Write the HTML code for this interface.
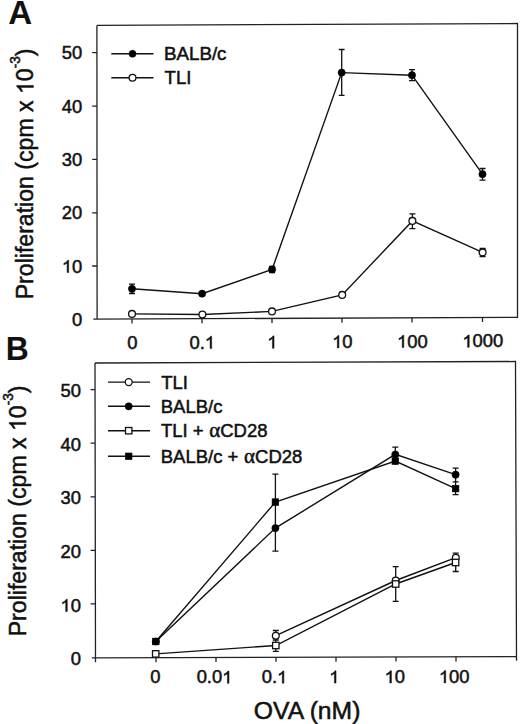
<!DOCTYPE html>
<html><head><meta charset="utf-8"><title>Proliferation</title>
<style>
html,body{margin:0;padding:0;background:#fff;width:520px;height:724px;overflow:hidden}
svg{display:block}
text{font-family:"Liberation Sans",sans-serif;fill:#111;stroke:#111;stroke-width:0.5}
.ax{stroke:#222;stroke-width:1.3;fill:none}
.dl{stroke:#111;stroke-width:1.4;fill:none}
.eb{stroke:#111;stroke-width:1.3;fill:none}
.fc{fill:#000;stroke:#000;stroke-width:0.6}
.oc{fill:#fff;stroke:#111;stroke-width:1.3}
.tk{font-size:17.9px}
.tl{font-size:23.1px}
.lg{font-size:17.6px}
.pl{font-size:32.5px;font-weight:bold;stroke-width:0}
.one{fill:#111;stroke:#111;stroke-width:0.5;vector-effect:non-scaling-stroke}
</style></head>
<body>
<svg width="520" height="724" viewBox="0 0 520 724">
<!-- ===================== PANEL A ===================== -->
<text class="pl" transform="translate(8.3,24) scale(1.02,1)">A</text>
<!-- axis title -->
<text class="tl" transform="translate(33.4,299.3) rotate(-90) scale(1,1.05)">Proliferation (cpm x &#8199;0<tspan font-size="13.5" dy="-12.4">-3</tspan><tspan dy="12.4">)</tspan></text>
<!-- box -->
<path class="ax" d="M96.8,25.4 L517.5,23.5 L517.5,317.3 L93.3,319.2 M96.9,25.4 L97.1,319.2"/>
<!-- y ticks -->
<path class="ax" d="M92.2,52.6H97 M92.2,106.2H97 M92.2,159.4H97 M92.2,212.8H97 M92.2,266H97"/>
<!-- x ticks -->
<path class="ax" d="M132,319 v4.6 M202,318.7 v4.6 M272,318.4 v4.6 M342,318.1 v4.6 M412,317.8 v4.6 M482.5,317.5 v4.6"/>
<g class="tk" text-anchor="end">
<text transform="translate(82.3,59.3) scale(1.027,1)">50</text>
<text transform="translate(82.3,112.8) scale(1.027,1)">40</text>
<text transform="translate(82.3,166) scale(1.027,1)">30</text>
<text transform="translate(82.3,219.4) scale(1.027,1)">20</text>
<text transform="translate(82.3,272.6) scale(1.027,1)">&#8199;0</text>
<text transform="translate(82.3,325.7) scale(1.027,1)">0</text>
</g>
<g class="tk" text-anchor="middle">
<text transform="translate(132.3,348.8) scale(1.027,1)">0</text>
<text transform="translate(202.3,348.5) scale(1.027,1)">0.&#8199;</text>
<text transform="translate(272.3,348.2) scale(1.027,1)">&#8199;</text>
<text transform="translate(342.3,347.9) scale(1.027,1)">&#8199;0</text>
<text transform="translate(412.3,347.6) scale(1.027,1)">&#8199;00</text>
<text transform="translate(482.8,347.3) scale(1.027,1)">&#8199;000</text>
</g>
<!-- legend A -->
<path class="dl" d="M111.3,53.8H153.5 M111.3,77.8H153.5"/>
<circle class="fc" cx="132.5" cy="53.8" r="3.5"/>
<circle class="oc" cx="132.5" cy="77.8" r="3.4"/>
<text class="lg" transform="translate(164,60.1) scale(1.065,1)">BALB/c</text>
<text class="lg" transform="translate(164.6,84.1) scale(1.05,1)">TLI</text>
<!-- data A: error bars -->
<path class="eb" d="M132,284.1V293.5 M129,284.1h6 M129,293.5h6
 M272.1,266.3V272.5 M269.1,266.3h6 M269.1,272.5h6
 M341.7,49.5V95.4 M338.8,49.5h5.8 M338.8,95.4h5.8
 M412,69.7V80.6 M409,69.7h6 M409,80.6h6
 M482.5,168.5V180.2 M479.5,168.5h6 M479.5,180.2h6
 M412.4,213.8V228.6 M409.4,213.8h6 M409.4,228.6h6
 M482.6,248.5V256.5 M479.6,248.5h6 M479.6,256.5h6"/>
<!-- data A lines -->
<polyline class="dl" points="132,288.8 202.1,293.7 272.1,269.4 341.7,72.6 412,75.2 482.5,174.2"/>
<polyline class="dl" points="132,313.9 202.4,314.5 272,311.4 342.2,294.9 412.4,220.9 482.6,252.4"/>
<!-- markers A -->
<g>
<circle class="fc" cx="132" cy="288.8" r="3.6"/>
<circle class="fc" cx="202.1" cy="293.7" r="3.6"/>
<circle class="fc" cx="272.1" cy="269.4" r="3.6"/>
<circle class="fc" cx="341.7" cy="72.6" r="3.6"/>
<circle class="fc" cx="412" cy="75.2" r="3.6"/>
<circle class="fc" cx="482.5" cy="174.2" r="3.6"/>
<circle class="oc" cx="132" cy="313.9" r="3.4"/>
<circle class="oc" cx="202.4" cy="314.5" r="3.4"/>
<circle class="oc" cx="272" cy="311.4" r="3.4"/>
<circle class="oc" cx="342.2" cy="294.9" r="3.4"/>
<circle class="oc" cx="412.4" cy="220.9" r="3.4"/>
<circle class="oc" cx="482.6" cy="252.4" r="3.4"/>
</g>

<!-- ===================== PANEL B ===================== -->
<text class="pl" transform="translate(5.8,360.3) scale(0.98,1)">B</text>
<text class="tl" transform="translate(25.9,636.3) rotate(-90) scale(1,1.05)">Proliferation (cpm x &#8199;0<tspan font-size="13.5" dy="-12.4">-3</tspan><tspan dy="12.4">)</tspan></text>
<path class="ax" d="M95,363 L515.5,361.5 L516.5,656.6 L91.9,657.8 M95,363 L95.5,662.2 M516.5,656.6 v4.2"/>
<path class="ax" d="M90.6,389.6H95 M90.6,443.2H95 M90.6,496.8H95 M90.6,550.4H95 M90.6,603.9H95"/>
<path class="ax" d="M156,657.6 v4.6 M216,657.4 v4.6 M276,657.2 v4.6 M336,657.1 v4.6 M396,656.9 v4.6 M456,656.8 v4.6"/>
<g class="tk" text-anchor="end">
<text transform="translate(80.9,397.2) scale(1.027,1)">50</text>
<text transform="translate(80.9,450.8) scale(1.027,1)">40</text>
<text transform="translate(80.9,504.4) scale(1.027,1)">30</text>
<text transform="translate(80.9,558.1) scale(1.027,1)">20</text>
<text transform="translate(80.9,611.6) scale(1.027,1)">&#8199;0</text>
<text transform="translate(80.9,665.2) scale(1.027,1)">0</text>
</g>
<g class="tk" text-anchor="middle">
<text transform="translate(155.3,683.4) scale(1.027,1)">0</text>
<text transform="translate(214.5,683.3) scale(1.027,1)">0.0&#8199;</text>
<text transform="translate(274.5,683.2) scale(1.027,1)">0.&#8199;</text>
<text transform="translate(334.3,683.1) scale(1.027,1)">&#8199;</text>
<text transform="translate(394.8,683) scale(1.027,1)">&#8199;0</text>
<text transform="translate(454.2,682.9) scale(1.027,1)">&#8199;00</text>
</g>
<text class="tl" transform="translate(253.8,718.8) scale(1.07,1)">OVA (nM)</text>
<!-- legend B -->
<path class="dl" d="M108,382.1H150 M108,406.3H150 M108,430.7H150 M108,456.3H150"/>
<circle class="oc" cx="128.7" cy="382.1" r="3.5"/>
<circle class="fc" cx="128.7" cy="406.3" r="3.6"/>
<rect class="oc" x="125.5" y="427.5" width="6.4" height="6.4"/>
<rect class="fc" x="125.4" y="453" width="6.6" height="6.6"/>
<text class="lg" transform="translate(161.2,388.6) scale(1.05,1)">TLI</text>
<text class="lg" transform="translate(160.8,412.7) scale(1.05,1)">BALB/c</text>
<text class="lg" transform="translate(160.9,437.2) scale(1.05,1)">TLI + <tspan font-family="Liberation Serif" font-size="20" dx="0.6">&#945;</tspan>CD28</text>
<text class="lg" transform="translate(160.8,462.6) scale(1.05,1)">BALB/c + <tspan font-family="Liberation Serif" font-size="20" dx="0.6">&#945;</tspan>CD28</text>
<!-- error bars B -->
<path class="eb" d="M275.4,474.2V551.1 M272.4,474.2h6 M272.4,551.1h6
 M395.3,447.1V465 M392.3,447.1h6
 M455.6,468.2V494.7 M452.6,468.2h6 M452.6,481.9h6 M452.6,494.7h6
 M275.8,630.5V651.3 M272.8,630.5h6 M272.8,640h6 M272.8,651.3h6
 M395.7,566.6V601.4 M392.7,566.6h6 M392.7,601.4h6
 M455.7,553.1V571.5 M452.7,553.1h6 M452.7,571.5h6"/>
<!-- lines B -->
<polyline class="dl" points="155.8,641.5 275.4,528.1 395.3,454.3 455.6,474.7"/>
<polyline class="dl" points="155.8,641.5 275.4,502.1 395.3,461 455.6,488.6"/>
<polyline class="dl" points="275.8,635.7 395.7,580.5 455.8,557.7"/>
<polyline class="dl" points="155.7,653.9 275.8,645.5 395.7,584 455.6,562.5"/>
<!-- markers B -->
<circle class="fc" cx="155.8" cy="641.5" r="3.6"/>
<rect class="fc" x="152.5" y="638.2" width="6.6" height="6.6"/>
<circle class="fc" cx="275.4" cy="528.1" r="3.6"/>
<rect class="fc" x="272.1" y="498.8" width="6.6" height="6.6"/>
<circle class="fc" cx="395.3" cy="454.5" r="3.6"/>
<rect class="fc" x="392" y="457.8" width="6.6" height="6.6"/>
<circle class="fc" cx="455.6" cy="474.7" r="3.6"/>
<rect class="fc" x="452.3" y="485.3" width="6.6" height="6.6"/>

<rect class="oc" x="152.5" y="650.7" width="6.4" height="6.4"/>
<circle class="oc" cx="275.8" cy="635.7" r="3.4"/>
<rect class="oc" x="272.6" y="642.3" width="6.4" height="6.4"/>
<circle class="oc" cx="395.7" cy="580.5" r="3.4"/>
<rect class="oc" x="392.5" y="580.8" width="6.4" height="6.4"/>
<circle class="oc" cx="455.8" cy="557.7" r="3.4"/>
<rect class="oc" x="452.4" y="559.3" width="6.4" height="6.4"/>
<path class="one" transform="translate(33.4,299.3) rotate(-90) scale(1,1.05) translate(205.27,0.00) scale(0.01128,-0.01128)" d="M763 0H583V1097.9Q518 1038.6 412 979.2Q306 919.9 222 890.2V1056.8Q373 1124.7 486 1221.4Q599 1318.1 646 1409H763Z"/>
<path class="one" transform="translate(82.3,272.6) scale(1.027,1) translate(-19.90,0.00) scale(0.00874,-0.00874)" d="M763 0H583V1097.9Q518 1038.6 412 979.2Q306 919.9 222 890.2V1056.8Q373 1124.7 486 1221.4Q599 1318.1 646 1409H763Z"/>
<path class="one" transform="translate(202.3,348.5) scale(1.027,1) translate(2.47,0.00) scale(0.00874,-0.00874)" d="M763 0H583V1097.9Q518 1038.6 412 979.2Q306 919.9 222 890.2V1056.8Q373 1124.7 486 1221.4Q599 1318.1 646 1409H763Z"/>
<path class="one" transform="translate(272.3,348.2) scale(1.027,1) translate(-4.98,0.00) scale(0.00874,-0.00874)" d="M763 0H583V1097.9Q518 1038.6 412 979.2Q306 919.9 222 890.2V1056.8Q373 1124.7 486 1221.4Q599 1318.1 646 1409H763Z"/>
<path class="one" transform="translate(342.3,347.9) scale(1.027,1) translate(-9.95,0.00) scale(0.00874,-0.00874)" d="M763 0H583V1097.9Q518 1038.6 412 979.2Q306 919.9 222 890.2V1056.8Q373 1124.7 486 1221.4Q599 1318.1 646 1409H763Z"/>
<path class="one" transform="translate(412.3,347.6) scale(1.027,1) translate(-14.92,0.00) scale(0.00874,-0.00874)" d="M763 0H583V1097.9Q518 1038.6 412 979.2Q306 919.9 222 890.2V1056.8Q373 1124.7 486 1221.4Q599 1318.1 646 1409H763Z"/>
<path class="one" transform="translate(482.8,347.3) scale(1.027,1) translate(-19.89,0.00) scale(0.00874,-0.00874)" d="M763 0H583V1097.9Q518 1038.6 412 979.2Q306 919.9 222 890.2V1056.8Q373 1124.7 486 1221.4Q599 1318.1 646 1409H763Z"/>
<path class="one" transform="translate(25.9,636.3) rotate(-90) scale(1,1.05) translate(205.27,0.00) scale(0.01128,-0.01128)" d="M763 0H583V1097.9Q518 1038.6 412 979.2Q306 919.9 222 890.2V1056.8Q373 1124.7 486 1221.4Q599 1318.1 646 1409H763Z"/>
<path class="one" transform="translate(80.9,611.6) scale(1.027,1) translate(-19.90,0.00) scale(0.00874,-0.00874)" d="M763 0H583V1097.9Q518 1038.6 412 979.2Q306 919.9 222 890.2V1056.8Q373 1124.7 486 1221.4Q599 1318.1 646 1409H763Z"/>
<path class="one" transform="translate(214.5,683.3) scale(1.027,1) translate(7.45,0.00) scale(0.00874,-0.00874)" d="M763 0H583V1097.9Q518 1038.6 412 979.2Q306 919.9 222 890.2V1056.8Q373 1124.7 486 1221.4Q599 1318.1 646 1409H763Z"/>
<path class="one" transform="translate(274.5,683.2) scale(1.027,1) translate(2.47,0.00) scale(0.00874,-0.00874)" d="M763 0H583V1097.9Q518 1038.6 412 979.2Q306 919.9 222 890.2V1056.8Q373 1124.7 486 1221.4Q599 1318.1 646 1409H763Z"/>
<path class="one" transform="translate(334.3,683.1) scale(1.027,1) translate(-4.98,0.00) scale(0.00874,-0.00874)" d="M763 0H583V1097.9Q518 1038.6 412 979.2Q306 919.9 222 890.2V1056.8Q373 1124.7 486 1221.4Q599 1318.1 646 1409H763Z"/>
<path class="one" transform="translate(394.8,683) scale(1.027,1) translate(-9.95,0.00) scale(0.00874,-0.00874)" d="M763 0H583V1097.9Q518 1038.6 412 979.2Q306 919.9 222 890.2V1056.8Q373 1124.7 486 1221.4Q599 1318.1 646 1409H763Z"/>
<path class="one" transform="translate(454.2,682.9) scale(1.027,1) translate(-14.92,0.00) scale(0.00874,-0.00874)" d="M763 0H583V1097.9Q518 1038.6 412 979.2Q306 919.9 222 890.2V1056.8Q373 1124.7 486 1221.4Q599 1318.1 646 1409H763Z"/>
</svg>
</body></html>
